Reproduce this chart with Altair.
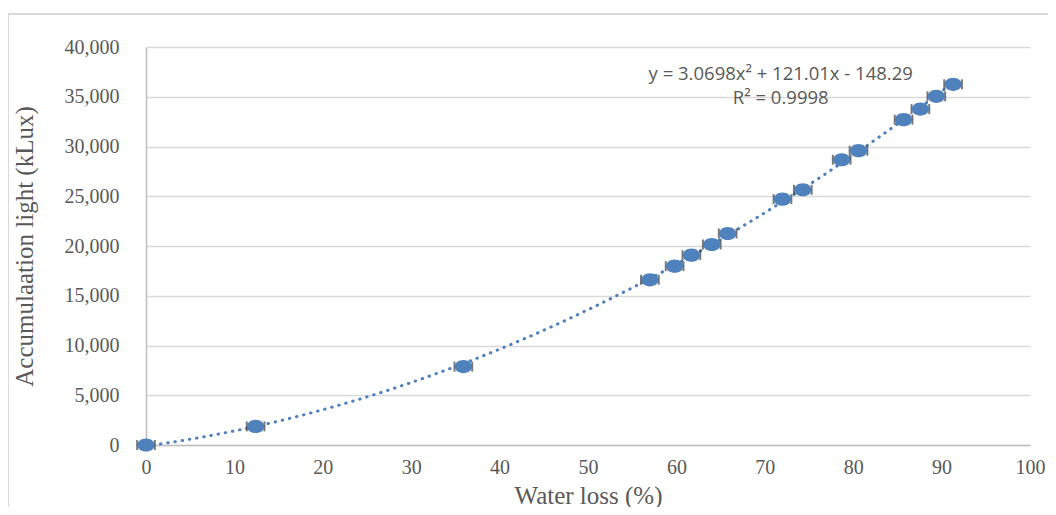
import altair as alt
import pandas as pd

# Values
water_loss = [0, 12.4, 35.9, 57.0, 59.8, 61.7, 64.0, 65.8, 72.0, 74.3, 78.7, 80.6, 85.7, 87.6, 89.4, 91.3]
light = [0, 1870, 7880, 16600, 17970, 19075, 20150, 21260, 24710, 25650, 28670, 29580, 32700, 33760, 35040, 36250]
x_err = [1.0, 1.0, 1.0, 1.0, 1.0, 1.0, 1.0, 1.0, 1.0, 1.0, 1.0, 1.0, 1.0, 1.0, 1.0, 1.0]

x_ticks = [0, 10, 20, 30, 40, 50, 60, 70, 80, 90, 100]
y_ticks = [0, 5000, 10000, 15000, 20000, 25000, 30000, 35000, 40000]

eq_text = ["y = 3.0698x² + 121.01x - 148.29", "R² = 0.9998"]
eq_x = [71.8, 71.8]
eq_y = [37250, 34850]

df = pd.DataFrame({"water_loss": water_loss, "light": light, "err": x_err})
eq_df = pd.DataFrame({"x": eq_x, "y": eq_y, "t": eq_text})
one = pd.DataFrame({"a": [0]})

BLUE = "#4F81BD"
ELLIPSE = "M -1 0 A 1 0.76 0 1 1 1 0 A 1 0.76 0 1 1 -1 0 Z"
SERIF = "Liberation Serif, Times New Roman, serif"

x_scale = alt.Scale(domain=[0, 100], nice=False, zero=False)
y_scale = alt.Scale(domain=[0, 40000], nice=False)

x_axis = alt.Axis(
    title="Water loss (%)", values=x_ticks, grid=False, ticks=False,
    labelPadding=12, labelFlush=False, titlePadding=6, titleFont=SERIF,
    titleFontSize=25, titleFontWeight="normal",
)
y_axis = alt.Axis(
    title="Accumulaation light (kLux)", values=y_ticks, format=",d", grid=True,
    ticks=False, labelPadding=27, labelFlush=False, titlePadding=27, titleFont=SERIF,
    titleFontSize=25, titleFontWeight="normal",
)

def X(field):
    return alt.X(f"{field}:Q", scale=x_scale, axis=x_axis)

def Y(field):
    return alt.Y(f"{field}:Q", scale=y_scale, axis=y_axis)

base = alt.Chart(df)

frame_left = alt.Chart(one).mark_rule(color="#D9D9D9", strokeWidth=2).encode(
    x=alt.value(-138), y=alt.value(-33), y2=alt.value(470)
)
frame_top = alt.Chart(one).mark_rule(color="#D9D9D9", strokeWidth=2).encode(
    y=alt.value(-33), x=alt.value(-138), x2=alt.value(910)
)

trend = base.transform_regression(
    "water_loss", "light", method="poly", order=2, extent=[0, 91.5]
).mark_line(
    color=BLUE, strokeWidth=3, strokeDash=[0.5, 6.8], strokeCap="round"
).encode(x=X("water_loss"), y=Y("light"))

err_calc = base.transform_calculate(
    lo="datum.water_loss - datum.err", hi="datum.water_loss + datum.err"
)
err_rule = err_calc.mark_rule(color="#404040", strokeWidth=1.5).encode(
    x=X("lo"), x2="hi:Q", y=Y("light")
)
cap_lo = err_calc.mark_tick(color="#404040", orient="vertical", size=10, thickness=2).encode(
    x=X("lo"), y=Y("light")
)
cap_hi = err_calc.mark_tick(color="#404040", orient="vertical", size=10, thickness=2).encode(
    x=X("hi"), y=Y("light")
)

points = base.mark_point(
    shape=ELLIPSE, filled=True, size=300, color=BLUE, opacity=1, strokeWidth=0
).encode(x=X("water_loss"), y=Y("light"))

eq = alt.Chart(eq_df).mark_text(
    font="Open Sans", fontSize=18.5, color="#595959", align="center", baseline="middle"
).encode(x=X("x"), y=Y("y"), text="t:N")

chart = alt.layer(
    frame_left, frame_top, trend, err_rule, cap_lo, cap_hi, points, eq
).properties(
    width=884, height=398,
    autosize=alt.AutoSizeParams(type="none"),
    padding={"left": 138, "top": 39, "right": 18, "bottom": 62},
).configure_view(stroke=None).configure_axis(
    labelFont=SERIF, labelFontSize=20, labelColor="#595959",
    titleColor="#595959", domainColor="#BFBFBF", domainWidth=1.5,
    gridColor="#D9D9D9", gridWidth=1.3,
)

chart.save("out.html", embed_options={"renderer": "svg", "actions": False})
